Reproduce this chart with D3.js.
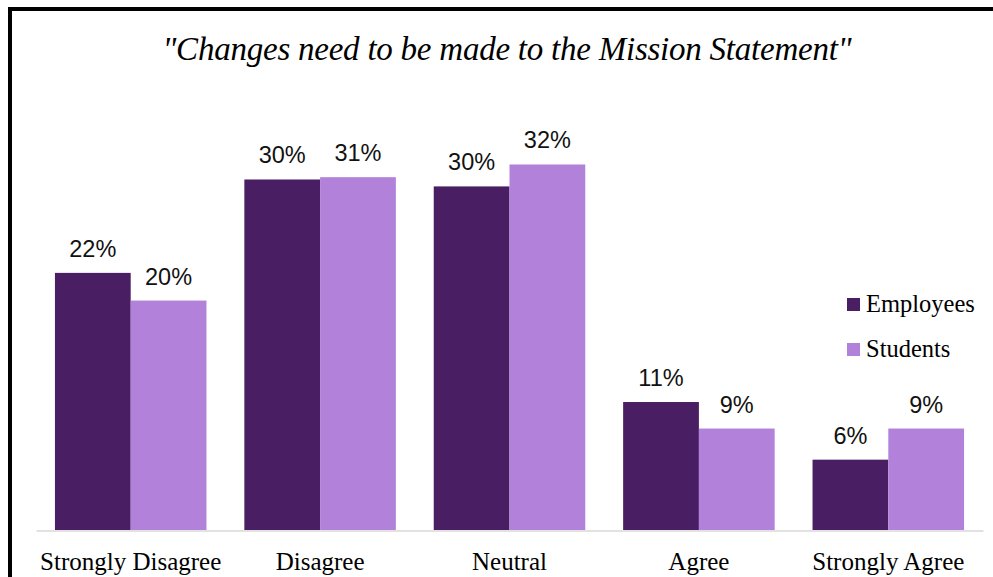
<html>
<head>
<script src="https://d3js.org/d3.v7.min.js"></script>
<style>
  body { margin: 0; background: #fff; }
</style>
</head>
<body>
<svg width="993" height="577"></svg>
<script>
var categories = ["Strongly Disagree", "Disagree", "Neutral", "Agree", "Strongly Agree"];
var seriesNames = ["Employees", "Students"];
var employees = [22.3, 30.4, 29.8, 11.1, 6.1];
var students = [19.9, 30.6, 31.7, 8.8, 8.8];
var colors = ["#4a1e62", "#b282da"];
var title = "\"Changes need to be made to the Mission Statement\"";

var svg = d3.select("svg");

// outer frame (runs off the right and bottom edges)
svg.append("rect")
    .attr("x", 10).attr("y", 9)
    .attr("width", 1000).attr("height", 600)
    .attr("fill", "none")
    .attr("stroke", "#000")
    .attr("stroke-width", 4);

svg.append("text")
    .attr("x", 507)
    .attr("y", 60)
    .attr("text-anchor", "middle")
    .style("font-family", "'Liberation Serif', serif")
    .style("font-style", "italic")
    .style("font-size", "33px")
    .attr("textLength", 689)
    .attr("lengthAdjust", "spacing")
    .text(title);

var x0 = d3.scaleBand().domain(categories).range([36, 983]).paddingInner(0.2).paddingOuter(0.1);
var x1 = d3.scaleBand().domain(seriesNames).range([0, x0.bandwidth()]);
var y = d3.scaleLinear().domain([0, 40]).range([530, 530 - 40 * 11.53]);

var rows = categories.map(function(c, i) {
    return {cat: c, vals: [
        {name: "Employees", v: employees[i], col: colors[0]},
        {name: "Students", v: students[i], col: colors[1]}
    ]};
});

var groups = svg.append("g").selectAll("g")
    .data(rows)
    .join("g")
    .attr("transform", function(d) { return "translate(" + x0(d.cat) + ",0)"; });

groups.selectAll("rect")
    .data(function(d) { return d.vals; })
    .join("rect")
    .attr("x", function(d) { return x1(d.name); })
    .attr("y", function(d) { return y(d.v); })
    .attr("width", x1.bandwidth())
    .attr("height", function(d) { return y(0) - y(d.v); })
    .attr("fill", function(d) { return d.col; });

groups.selectAll("text")
    .data(function(d) { return d.vals; })
    .join("text")
    .attr("x", function(d) { return x1(d.name) + x1.bandwidth() / 2; })
    .attr("y", function(d) { return y(d.v) - 16; })
    .attr("text-anchor", "middle")
    .style("font-family", "'Liberation Sans', Arial, sans-serif")
    .style("font-size", "23.5px")
    .attr("fill", "#111")
    .text(function(d) { return Math.round(d.v) + "%"; });

// x axis
var xAxis = svg.append("g")
    .attr("transform", "translate(0,530.5)")
    .call(d3.axisBottom(x0).tickSize(0).tickPadding(22));
xAxis.select(".domain").attr("stroke", "#d9d9d9").attr("stroke-width", 1.5);
xAxis.selectAll("text")
    .style("font-family", "'Liberation Serif', serif")
    .style("font-size", "25px")
    .attr("fill", "#000");

// legend
var legend = svg.append("g").selectAll("g")
    .data(seriesNames)
    .join("g")
    .attr("transform", function(d, i) { return "translate(847," + (298 + i * 45) + ")"; });
legend.append("rect")
    .attr("width", 13).attr("height", 13)
    .attr("fill", function(d, i) { return colors[i]; });
legend.append("text")
    .attr("x", 19).attr("y", 14)
    .style("font-family", "'Liberation Serif', serif")
    .style("font-size", "24.5px")
    .text(function(d) { return d; });
</script>
</body>
</html>
